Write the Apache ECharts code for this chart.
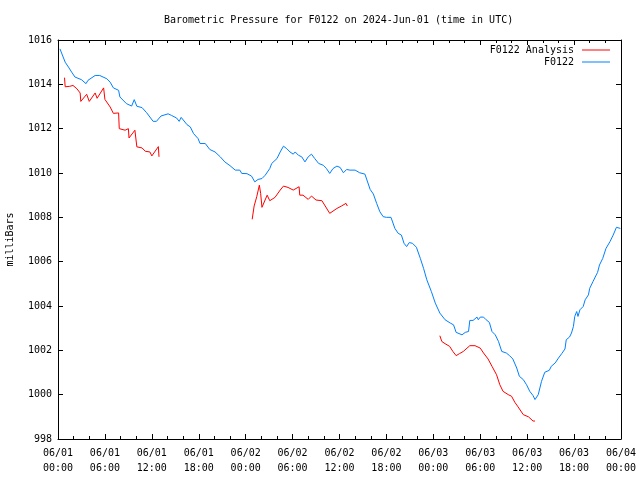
<!DOCTYPE html>
<html>
<head>
<meta charset="utf-8">
<script src="https://cdn.jsdelivr.net/npm/echarts@6/dist/echarts.min.js"></script>
<style>html,body{margin:0;padding:0;background:#fff}#c{width:640px;height:480px}</style>
</head>
<body>
<div id="c"></div>
<script>
// X tick labels (every 6 hours from 2024-06-01 00:00 UTC)
const tickLabels = ['06/01\n00:00','06/01\n06:00','06/01\n12:00','06/01\n18:00','06/02\n00:00','06/02\n06:00','06/02\n12:00','06/02\n18:00','06/03\n00:00','06/03\n06:00','06/03\n12:00','06/03\n18:00','06/04\n00:00'];

// F0122 observed pressure: minutes since 06/01 00:00 and mb values
const blueMinutes = [15,55,80,105,130,180,215,230,285,320,
375,400,425,465,475,525,565,585,605,645,
680,730,755,790,845,870,910,930,945,990,
1015,1040,1075,1090,1130,1165,1205,1220,1245,1280,
1320,1360,1395,1410,1450,1485,1510,1535,1565,1590,
1625,1640,1680,1705,1730,1755,1780,1805,1820,1845,
1870,1895,1920,1945,1970,2000,2035,2060,2085,2110,
2140,2165,2190,2215,2240,2280,2315,2355,2395,2420,
2445,2470,2495,2520,2535,2555,2570,2585,2610,2635,
2655,2675,2695,2720,2750,2780,2805,2830,2865,2895,
2930,2970,3010,3035,3055,3070,3100,3125,3150,3160,
3185,3215,3225,3240,3265,3285,3310,3330,3355,3380,
3405,3440,3465,3490,3520,3540,3570,3595,3620,3645,
3660,3685,3710,3735,3770,3785,3800,3815,3840,3865,
3890,3900,3925,3940,3955,3965,3980,3990,4005,4030,
4045,4070,4080,4105,4130,4140,4155,4180,4205,4235,
4260,4285,4300,4315];
const blueValues = [1015.60,1015.00,1014.78,1014.55,1014.33,1014.21,1014.03,1014.18,1014.40,1014.40,
1014.25,1014.10,1013.84,1013.73,1013.43,1013.13,1013.02,1013.31,1013.01,1012.95,
1012.72,1012.33,1012.33,1012.57,1012.67,1012.60,1012.48,1012.33,1012.51,1012.18,
1012.08,1011.78,1011.55,1011.33,1011.33,1011.06,1010.95,1011.00,1010.73,1010.50,
1010.33,1010.13,1010.13,1009.98,1009.97,1009.86,1009.60,1009.71,1009.75,1009.90,
1010.20,1010.43,1010.65,1010.95,1011.21,1011.10,1010.95,1010.85,1010.95,1010.80,
1010.73,1010.50,1010.73,1010.85,1010.65,1010.43,1010.35,1010.20,1009.98,1010.20,
1010.31,1010.25,1010.01,1010.16,1010.13,1010.13,1010.01,1009.95,1009.26,1009.05,
1008.63,1008.25,1008.03,1008.00,1007.91,1008.00,1007.95,1007.50,1007.28,1007.20,
1006.83,1006.68,1006.86,1006.83,1006.65,1006.15,1005.70,1005.18,1004.65,1004.13,
1003.68,1003.38,1003.23,1003.15,1002.81,1002.85,1002.70,1002.81,1002.85,1003.35,
1003.35,1003.50,1003.38,1003.50,1003.50,1003.38,1003.26,1002.85,1002.70,1002.40,
1001.95,1001.88,1001.76,1001.61,1001.20,1000.83,1000.68,1000.45,1000.15,999.96,
999.78,1000.00,1000.60,1001.01,1001.10,1001.28,1001.20,1001.43,1001.65,1001.85,
1002.06,1002.48,1002.60,1002.78,1003.08,1003.53,1003.75,1003.53,1003.83,1003.98,
1004.28,1004.50,1004.80,1005.10,1005.40,1005.51,1005.85,1006.15,1006.60,1006.90,
1007.20,1007.55,1007.61,1007.50];

// F0122 Analysis: three separate runs
const analysis1Minutes = [50,55,90,115,145,170,175,220,240,285,300,350,360,400,425,465,470,515,540,545,590,605,645,670,705,720,770,775];
const analysis1Values = [1014.30,1013.89,1013.91,1013.95,1013.80,1013.61,1013.23,1013.55,1013.23,1013.61,1013.37,1013.84,1013.32,1012.98,1012.69,1012.71,1012.00,1011.93,1012.00,1011.58,1011.93,1011.18,1011.13,1010.98,1010.95,1010.77,1011.19,1010.73];
const analysis2Minutes = [1490,1505,1525,1545,1555,1565,1605,1625,1665,1705,1730,1765,1805,1850,1855,1880,1920,1945,1980,2025,2085,2140,2175,2210,2220];
const analysis2Values = [1007.91,1008.51,1008.93,1009.45,1009.08,1008.45,1009.00,1008.75,1008.90,1009.23,1009.41,1009.35,1009.23,1009.38,1009.00,1009.00,1008.81,1008.96,1008.78,1008.75,1008.18,1008.40,1008.51,1008.63,1008.51];
const analysis3Minutes = [2930,2945,2970,3005,3030,3055,3080,3110,3160,3200,3240,3265,3300,3330,3365,3390,3415,3455,3480,3505,3530,3570,3610,3645,3660];
const analysis3Values = [1002.66,1002.40,1002.30,1002.18,1001.95,1001.76,1001.85,1001.95,1002.21,1002.21,1002.10,1001.88,1001.61,1001.28,1000.90,1000.45,1000.15,1000.00,999.93,999.66,999.45,999.10,999.00,998.81,998.81];

const FONT = 'DejaVu Sans Mono';
const pair = (xs, ys) => xs.map((x, i) => [x, ys[i]]);
const blueData = pair(blueMinutes, blueValues);
const redData = [].concat(
  pair(analysis1Minutes, analysis1Values), [['-','-']],
  pair(analysis2Minutes, analysis2Values), [['-','-']],
  pair(analysis3Minutes, analysis3Values));

const black = {color:'#000', width:1};
function xAx(pos, labels){
  return {type:'value', min:0, max:4320, interval:360, position:pos,
    axisLine:{show:true, onZero:false, lineStyle:black},
    axisTick:{show:true, inside:true, length:5, lineStyle:black},
    minorTick:{show:true, splitNumber:3, length:3, lineStyle:black},
    splitLine:{show:false},
    axisLabel:{show:labels, color:'#000', fontFamily:FONT, fontSize:10, lineHeight:15, margin:7,
      formatter:v=>tickLabels[Math.round(v/360)]}};
}
function yAx(pos, labels){
  const a = {type:'value', min:998, max:1016, interval:2, position:pos,
    axisLine:{show:true, onZero:false, lineStyle:black},
    axisTick:{show:true, inside:true, length:5, lineStyle:black},
    splitLine:{show:false},
    axisLabel:{show:labels, color:'#000', fontFamily:FONT, fontSize:10, margin:6, formatter:v=>String(v)}};
  if(labels){
    a.name='milliBars'; a.nameLocation='middle'; a.nameGap=43; a.nameRotate=90;
    a.nameTextStyle={color:'#000', fontFamily:FONT, fontSize:10};
  }
  return a;
}
const chart = echarts.init(document.getElementById('c'), null, {renderer:'canvas'});
chart.setOption({
  animation:false,
  backgroundColor:'#fff',
  title:{text:'Barometric Pressure for F0122 on 2024-Jun-01 (time in UTC)', left:164, top:15, padding:0,
    textStyle:{fontFamily:FONT, fontSize:10, fontWeight:'normal', color:'#000'}},
  grid:{left:58, right:19, top:40, bottom:41, containLabel:false, outerBoundsMode:'none'},
  legend:[
    {data:['F0122 Analysis'], orient:'vertical', right:30, top:45, padding:0, align:'right', icon:'rect', itemWidth:28, itemHeight:1,
      textStyle:{fontFamily:FONT, fontSize:10, color:'#000', padding:[0,3,0,0]}},
    {data:['F0122'], orient:'vertical', right:30, top:57, padding:0, align:'right', icon:'rect', itemWidth:28, itemHeight:1,
      textStyle:{fontFamily:FONT, fontSize:10, color:'#000', padding:[0,3,0,0]}}
  ],
  xAxis:[xAx('bottom', true), xAx('top', false)],
  yAxis:[yAx('left', true), yAx('right', false)],
  series:[
    {name:'F0122 Analysis', type:'line', data:redData, showSymbol:false, symbol:'none', connectNulls:false,
      color:'#ff0000', lineStyle:{width:1, color:'#ff0000'}, xAxisIndex:0, yAxisIndex:0},
    {name:'F0122', type:'line', data:blueData, showSymbol:false, symbol:'none',
      color:'#0080ff', lineStyle:{width:1, color:'#0080ff'}, xAxisIndex:0, yAxisIndex:0}
  ]
});
</script>
</body>
</html>
